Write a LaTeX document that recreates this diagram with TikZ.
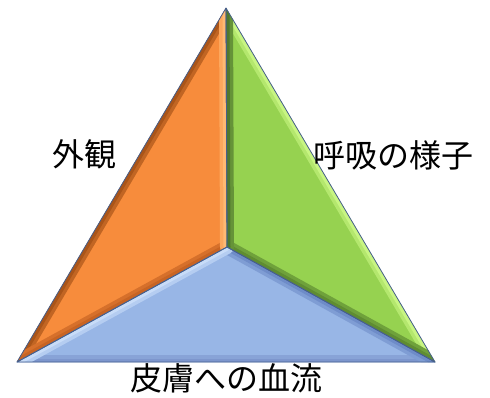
\documentclass[tikz,border=0pt]{standalone}
\usepackage{fontspec}
\newfontfamily\jpfont{Noto Sans CJK JP}
\definecolor{orangeM}{RGB}{247,140,60}
\definecolor{orangeD}{RGB}{170,85,25}
\definecolor{orangeL}{RGB}{255,185,115}
\definecolor{orangeB}{RGB}{200,100,35}
\definecolor{greenM}{RGB}{150,210,80}
\definecolor{greenD}{RGB}{80,120,45}
\definecolor{greenB}{RGB}{95,140,50}
\definecolor{greenL}{RGB}{200,245,130}
\definecolor{blueM}{RGB}{152,182,230}
\definecolor{blueL}{RGB}{200,220,248}
\definecolor{blueD}{RGB}{110,140,200}
\definecolor{blueB}{RGB}{125,150,205}
\definecolor{edgeC}{RGB}{70,95,140}
\tikzset{
  face/.style={line width=0.8pt, draw=edgeC, line join=round},
  bevel/.style={line width=14pt, line cap=round},
  bevelin/.style={line width=7pt, line cap=round},
  lbl/.style={font=\jpfont\fontsize{32}{38}\selectfont, text=black, inner sep=0pt}
}
\begin{document}
\begin{tikzpicture}[x=1pt,y=-1pt]
\useasboundingbox (0,0) rectangle (490,397);
\coordinate (A) at (226,8);
\coordinate (L) at (17,362);
\coordinate (R) at (435,362);
\coordinate (C) at (227,247);
% left face
\begin{scope}
\clip (A) -- (L) -- (C) -- cycle;
\fill[orangeM] (A) -- (L) -- (C) -- cycle;
\draw[bevel, orangeD!70!orangeM] (A) -- (L);
\draw[bevelin, orangeD] (A) -- (L);
\draw[bevel, orangeB!70!orangeM] (L) -- (C);
\draw[bevelin, orangeB] (L) -- (C);
\draw[bevel, orangeL!60!orangeM] (C) -- (A);
\draw[bevelin, orangeL] (C) -- (A);
\end{scope}
% right face
\begin{scope}
\clip (A) -- (C) -- (R) -- cycle;
\fill[greenM] (A) -- (C) -- (R) -- cycle;
\draw[bevel, greenL!60!greenM] (R) -- (A);
\draw[bevelin, greenL] (R) -- (A);
\draw[bevel, greenB!70!greenM] (C) -- (R);
\draw[bevelin, greenB] (C) -- (R);
\draw[bevel, greenD!70!greenM] (A) -- (C);
\draw[bevelin, greenD] (A) -- (C);
\end{scope}
% bottom face
\begin{scope}
\clip (L) -- (C) -- (R) -- cycle;
\fill[blueM] (L) -- (C) -- (R) -- cycle;
\draw[bevel, blueB!60!blueM] (L) -- (R);
\draw[bevelin, blueB] (L) -- (R);
\draw[bevel, blueD!60!blueM] (C) -- (R);
\draw[bevelin, blueD] (C) -- (R);
\draw[bevel, blueL!60!blueM] (L) -- (C);
\draw[bevelin, blueL] (L) -- (C);
\end{scope}
\draw[face] (A) -- (L) -- (C) -- cycle;
\draw[face] (A) -- (C) -- (R) -- cycle;
\draw[face] (L) -- (C) -- (R) -- cycle;
% labels
\node[lbl] (t1) at (84,154) {外観};
\node[lbl] (t2) at (393,155) {呼吸の様子};
\node[lbl] (t3) at (226,378) {皮膚への血流};
\end{tikzpicture}
\end{document}
